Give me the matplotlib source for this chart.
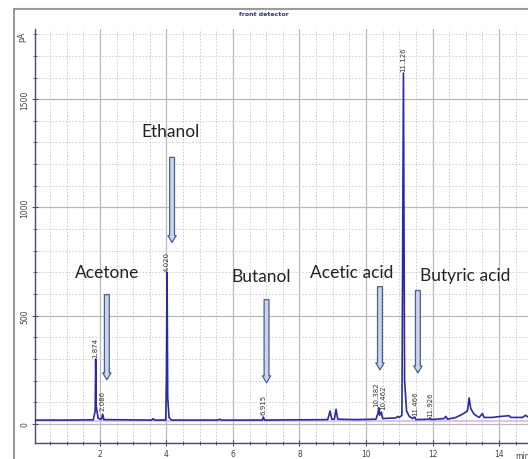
import matplotlib.pyplot as plt
from matplotlib.patches import Rectangle
from matplotlib.ticker import MultipleLocator

# chromatogram trace (min, pA)
time = [0.05, 1.0, 1.80, 1.86, 1.874, 1.89, 1.95, 2.05, 2.086, 2.12, 3.55, 3.6, 3.65,
        3.98, 4.00, 4.02, 4.04, 4.08, 4.15, 5.55, 5.6, 5.65, 6.88, 6.915, 6.95,
        8.85, 8.92, 8.97, 9.05, 9.1, 9.15, 9.7, 10.3, 10.36, 10.382, 10.41, 10.46, 10.5,
        10.9, 10.95, 11.0, 11.08, 11.126, 11.16, 11.22, 11.3, 11.4, 11.466, 11.5,
        11.9, 11.926, 11.96, 12.35, 12.4, 12.45, 12.7, 12.9, 13.05, 13.1, 13.15, 13.25,
        13.4, 13.5, 13.55, 13.8, 14.0, 14.3, 14.35, 14.7, 14.8, 14.87]
signal = [18, 18, 19, 60, 300, 80, 25, 22, 45, 20, 18, 24, 18,
          18, 200, 700, 120, 30, 18, 18, 22, 18, 18, 32, 18,
          20, 60, 22, 22, 68, 22, 20, 22, 50, 75, 40, 55, 25,
          28, 35, 30, 40, 1620, 200, 60, 35, 25, 32, 20,
          22, 28, 20, 25, 35, 22, 30, 45, 60, 120, 70, 45,
          30, 48, 30, 30, 34, 38, 30, 30, 40, 32]

# retention time labels
rt_times = [1.874, 2.086, 4.020, 6.915, 10.31, 10.51, 11.126, 11.466, 11.926]
rt_heights = [300, 55, 700, 40, 75, 60, 1620, 35, 30]
rt_labels = ["1.874", "2.086", "4.020", "6.915", "10.382", "10.462", "11.126", "11.466", "11.926"]

# compound names and arrows
names = ["Acetone", "Ethanol", "Butanol", "Acetic acid", "Butyric acid"]
name_x = [2.21, 4.11, 6.84, 9.58, 12.98]
name_y = [700, 1352, 685, 700, 690]
arrow_x = [2.21, 4.17, 7.01, 10.42, 11.56]
arrow_top = [597, 1231, 574, 634, 616]
arrow_bottom = [204, 838, 190, 250, 236]

fig = plt.figure(figsize=(5.28, 4.6), dpi=100)
fig.patch.set_facecolor("white")
fig.patches.append(Rectangle((14 / 528, -0.1), 1.0, (460 - 10) / 460 + 0.1,
                             transform=fig.transFigure, fill=False,
                             ec="#9a9a9a", lw=1.5, zorder=0))
fig.text(264 / 528, 1 - 15 / 460, "front detector", ha="center", va="center",
         fontsize=4.5, color="#2a3a7a", fontweight="bold")

ax = fig.add_axes([35 / 528, 16 / 460, 493 / 528, 414 / 460])
ax.set_xlim(0.05, 14.87)
ax.set_ylim(-88, 1824)

ax.xaxis.set_major_locator(MultipleLocator(2))
ax.xaxis.set_minor_locator(MultipleLocator(0.5))
ax.yaxis.set_major_locator(MultipleLocator(500))
ax.yaxis.set_minor_locator(MultipleLocator(100))
ax.grid(which="major", color="#b8b8b8", lw=0.9, ls="-")
ax.grid(which="minor", color="#c8c8c8", lw=0.6, ls=(0, (2, 2)))
ax.set_axisbelow(True)

for s in ["top", "right"]:
    ax.spines[s].set_visible(False)
for s in ["left", "bottom"]:
    ax.spines[s].set_color("#4a4a6a")
    ax.spines[s].set_linewidth(1.0)

ax.tick_params(which="major", direction="inout", length=5, width=0.8, color="#4a4a6a",
               labelsize=5.5, labelcolor="#404050", pad=1.5)
ax.tick_params(which="minor", direction="inout", length=2.5, width=0.6, color="#4a4a6a")
ax.set_xticks([2, 4, 6, 8, 10, 12, 14])
ax.set_yticks([0, 500, 1000, 1500])
ax.set_yticklabels(["0", "500", "1000", "1500"], rotation=90, va="center")
ax.text(-0.35, 1790, "pA", rotation=90, ha="center", va="center",
        fontsize=5.5, color="#404050", clip_on=False)
ax.text(14.5, -148, "min", ha="left", va="center", fontsize=5.5,
        color="#404050", clip_on=False)

# pale integration baseline and trace
ax.plot([0.05, 14.87], [12, 12], color="#d8b8e8", lw=1.2, zorder=2)
ax.plot(time, signal, color="#2b2b9c", lw=1.2, zorder=3)

for t, h, lab in zip(rt_times, rt_heights, rt_labels):
    ax.text(t, h + 8, lab, rotation=90, ha="center", va="bottom",
            fontsize=5, color="#333333", zorder=4)

for n, x, y in zip(names, name_x, name_y):
    ax.text(x, y, n, ha="center", va="center", fontsize=12.5,
            family="Lato", color="#222222", zorder=5)

for x, y0, y1 in zip(arrow_x, arrow_top, arrow_bottom):
    ax.annotate("", xy=(x, y1), xytext=(x, y0),
                arrowprops=dict(arrowstyle="simple,head_length=0.5,head_width=0.6,tail_width=0.35",
                                fc="#c9d6ec", ec="#4a5f8c", lw=0.9,
                                shrinkA=0, shrinkB=0, mutation_scale=10),
                zorder=5)

fig.savefig("out.png", dpi=100)
